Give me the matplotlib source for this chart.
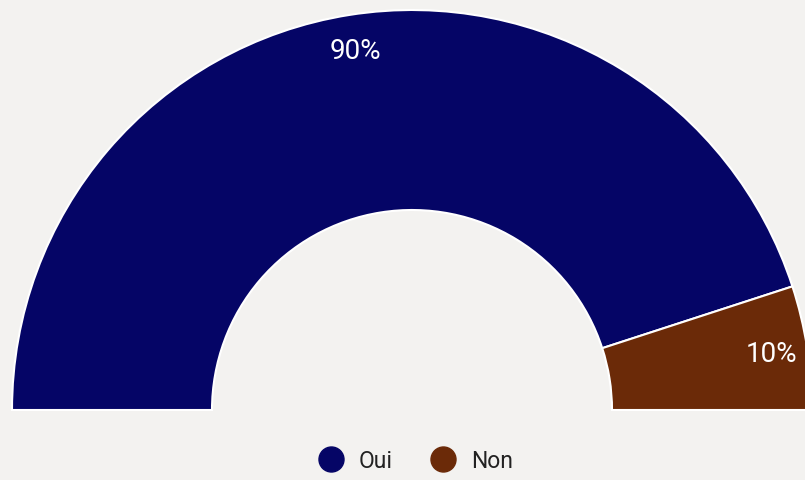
import matplotlib.pyplot as plt
from matplotlib.lines import Line2D

plt.rcParams['font.family'] = ['Roboto', 'DejaVu Sans']

# data
categories = ['Oui', 'Non']
values = [90, 10]
colors = ['#050566', '#6b2a08']
bg = '#f3f2f0'

W, H = 805, 481
fig = plt.figure(figsize=(W / 100, H / 100), dpi=100, facecolor=bg)
ax = fig.add_axes([0, 0, 1, 1])
ax.set_facecolor(bg)

# half donut: fractions summing to 0.5 -> half circle
total = sum(values)
fracs = [v / total / 2 for v in values]
wedges, texts, autotexts = ax.pie(
    fracs, normalize=False, colors=colors, startangle=180, counterclock=False,
    center=(412, 70), radius=400, autopct='%.0f', pctdistance=0.91,
    wedgeprops=dict(width=200, edgecolor='white', linewidth=1.5),
    textprops=dict(color='white', fontsize=20))
for t, v in zip(autotexts, values):
    t.set_text(f'{v}%')

ax.set_xlim(0, W)
ax.set_ylim(0, H)
ax.set_aspect('equal')
ax.axis('off')

handles = [Line2D([], [], marker='o', ls='', markersize=18, markerfacecolor=c,
                  markeredgecolor=c) for c in colors]
fig.legend(handles, categories, loc='center', bbox_to_anchor=(0.51, 1 - 462 / H),
           ncol=2, frameon=False, fontsize=16.5, handletextpad=0.2,
           columnspacing=1.2, labelcolor='#222222')

fig.savefig('out.png', dpi=100, facecolor=bg)
